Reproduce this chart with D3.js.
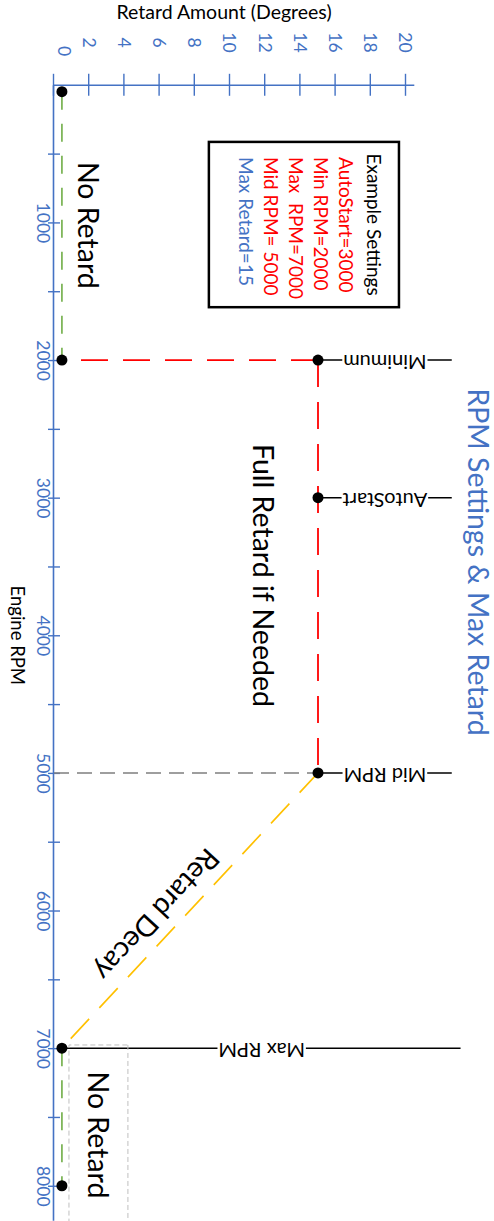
<!DOCTYPE html>
<html><head><meta charset="utf-8">
<script src="https://cdn.jsdelivr.net/npm/d3@7"></script>
<style>
html,body{margin:0;padding:0;background:#fff;}
svg{display:block;font-family:Lato,"Open Sans",sans-serif;}
</style></head><body>
<svg id="chart" width="494" height="1221"></svg>
<script>
// ---- data ----
const rpmTicks = [500,1000,1500,2000,2500,3000,3500,4000,4500,5000,5500,6000,6500,7000,7500,8000];
const rpmLabels = [1000,2000,3000,4000,5000,6000,7000,8000];
const retardTicks = [0,2,4,6,8,10,12,14,16,18,20];

const noRetardLow  = [[50,0.45],[2000,0.45]];
const noRetardHigh = [[7000,0.45],[8000,0.45]];
const minDrop      = [[2000,15],[2000,0.45]];
const fullRetard   = [[2000,15],[5000,15]];
const decay        = [[5000,15],[7000,0.45]];
const midDrop      = [[5000,0],[5000,15]];
const points       = [[50,0.45],[2000,0.45],[2000,15],[3000,15],[5000,15],[7000,0.45],[8000,0.45]];

const markerNames   = ["Minimum","AutoStart","Mid RPM","Max RPM"];
const markerRpm     = [2000,3000,5000,7000];
const markerFrom    = [15,15,15,0.45];
const markerTo      = [22.6,22.6,22.6,23.1];
const markerLabelAt = [18.8,18.8,18.8,11.8];

const settingsTitle = "Example Settings";
const settingsLines = ["AutoStart=3000","Min RPM=2000","Max  RPM=7000","Mid RPM= 5000","Max Retard=15"];
const settingsKinds = ["rpm","rpm","rpm","rpm","retard"];

const chartTitle = "RPM Settings & Max Retard";
const xTitle = "Engine RPM";
const yTitle = "Retard Amount (Degrees)";

// ---- colours ----
const BLUE="#4472C4", RED="#FF0000", GREEN="#70AD47", GOLD="#FFC000", GREY="#7F7F7F";

// ---- layout (chart drawn landscape, then rotated 90deg clockwise) ----
const svg = d3.select("#chart");
const g = svg.append("g").attr("transform","translate(494,0) rotate(90)");

const x = d3.scaleLinear().domain([0,8250]).range([84.8, 84.8+8250*0.13762]);
const y = d3.scaleLinear().domain([0,20.5]).range([440, 440-20.5*17.6]);
const line = d3.line().x(d=>x(d[0])).y(d=>y(d[1]));

// axes
const ax = g.append("g").attr("transform",`translate(0,${y(0)})`)
  .call(d3.axisBottom(x).tickValues(rpmTicks).tickSizeOuter(0)
        .tickFormat(d => rpmLabels.includes(d) ? String(d) : ""));
ax.select(".domain").attr("stroke",BLUE).attr("stroke-width",1.6);
ax.selectAll(".tick line").attr("stroke",BLUE).attr("stroke-width",1.4).attr("y1",-6).attr("y2",6);
ax.selectAll(".tick text").attr("fill",BLUE).attr("font-size",17.5).attr("y",17.5).attr("dy",0)
  .attr("font-family","Lato");

const ay = g.append("g").attr("transform",`translate(${x(0)},0)`)
  .call(d3.axisLeft(y).tickValues(retardTicks).tickSizeOuter(0));
ay.select(".domain").attr("stroke",BLUE).attr("stroke-width",1.6);
ay.selectAll(".tick line").attr("stroke",BLUE).attr("stroke-width",1.4).attr("x1",-11).attr("x2",11);
ay.selectAll(".tick text").attr("fill",BLUE).attr("font-size",17.5).attr("font-family","Lato")
  .attr("text-anchor","middle").attr("x",-42.3).attr("dy","0.35em")
  .filter(d=>d===0).attr("x",-33.8).attr("y",-11);

// axis titles & chart title
g.append("text").attr("x",x(4000)).attr("y",483.3).attr("text-anchor","middle")
  .attr("font-size",18.5).attr("fill","#000").text(xTitle);
g.append("text").attr("transform","translate(19,270) rotate(-90)").attr("text-anchor","middle")
  .attr("font-size",19.5).attr("fill","#000").text(yTitle);
g.append("text").attr("x",562).attr("y",26.5).attr("text-anchor","middle")
  .attr("font-size",28.5).attr("fill",BLUE).text(chartTitle);

// marker lines (with labels breaking the line)
markerNames.forEach((name,i)=>{
  g.append("path").attr("d",line([[markerRpm[i],markerFrom[i]],[markerRpm[i],markerTo[i]]]))
    .attr("stroke","#000").attr("stroke-width",1.5).attr("fill","none");
  const lg = g.append("g").attr("transform",`translate(${x(markerRpm[i])},${y(markerLabelAt[i])}) rotate(90)`);
  const r = lg.append("rect").attr("fill","#fff");
  const t = lg.append("text").attr("text-anchor","middle").attr("dy","0.25em")
    .attr("font-size",20).attr("fill","#000").text(name);
  const w = t.node().getComputedTextLength();
  r.attr("x",-w/2-1).attr("width",w+2).attr("y",-4).attr("height",8);
});

// series
g.append("path").attr("d",line(midDrop)).attr("fill","none").attr("stroke",GREY)
  .attr("stroke-width",1.5).attr("stroke-dasharray","15,8");
[noRetardLow,noRetardHigh].forEach(s=>g.append("path").attr("d",line(s)).attr("fill","none")
  .attr("stroke",GREEN).attr("stroke-width",1.6).attr("stroke-dasharray","18,14"));
[minDrop,fullRetard].forEach(s=>g.append("path").attr("d",line(s)).attr("fill","none")
  .attr("stroke",RED).attr("stroke-width",1.8).attr("stroke-dasharray","27,15"));
g.append("path").attr("d",line(decay)).attr("fill","none").attr("stroke",GOLD)
  .attr("stroke-width",1.6).attr("stroke-dasharray","27,15");

g.selectAll("circle.pt").data(points).join("circle").attr("class","pt")
  .attr("cx",d=>x(d[0])).attr("cy",d=>y(d[1])).attr("r",5.5).attr("fill","#000");

// region annotations (data coordinates)
g.append("text").attr("x",x(1021)).attr("y",y(1.36)).attr("text-anchor","middle")
  .attr("font-size",28.5).attr("fill","#000").text("No Retard");
g.append("text").attr("x",x(3565)).attr("y",y(11.3)).attr("text-anchor","middle")
  .attr("font-size",28.5).attr("fill","#000").text("Full Retard if Needed");

// bottom "No Retard" text box
g.append("rect").attr("x",x(6977)).attr("y",y(4.2)).attr("width",x(8400)-x(6977)).attr("height",y(0.85)-y(4.2))
  .attr("fill","none").attr("stroke","#BFBFBF").attr("stroke-width",1).attr("stroke-dasharray","5,3");
g.append("text").attr("x",x(7631)).attr("y",y(1.93)).attr("text-anchor","middle")
  .attr("font-size",28.5).attr("fill","#000").text("No Retard");

// decay label rotated along the line
const ang = Math.atan2(y(decay[1][1])-y(decay[0][1]), x(decay[1][0])-x(decay[0][0]))*180/Math.PI;
g.append("text").attr("transform",`translate(${x(6030)},${y(5.85)}) rotate(${ang})`)
  .attr("text-anchor","middle").attr("dy","0.35em").attr("font-size",28.5).attr("fill","#000").text("Retard Decay");

// settings box
g.append("rect").attr("x",x(415)).attr("y",y(19.6)).attr("width",x(1616)-x(415)).attr("height",y(8.8)-y(19.6))
  .attr("fill","#fff").attr("stroke","#000").attr("stroke-width",2.5);
g.append("text").attr("x",(x(415)+x(1616))/2).attr("y",127).attr("text-anchor","middle")
  .attr("font-size",19).attr("fill","#000").text(settingsTitle);
settingsLines.forEach((s,i)=>{
  g.append("text").attr("x",x(525)).attr("y",155+25*i).attr("font-size",19)
    .attr("fill",settingsKinds[i]==="rpm"?RED:BLUE).style("white-space","pre").text(s);
});
</script>
</body></html>
